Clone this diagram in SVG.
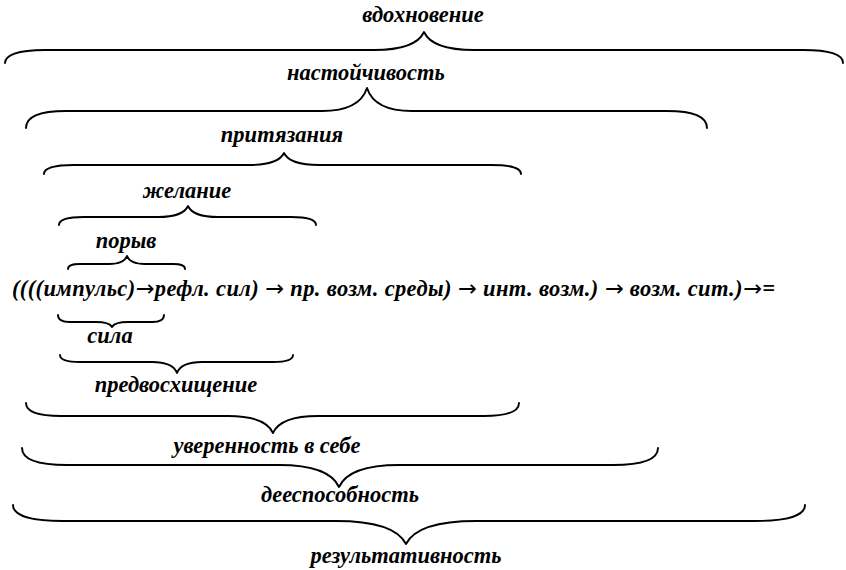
<svg xmlns="http://www.w3.org/2000/svg" width="846" height="570" viewBox="0 0 846 570">
<style>
text{font-family:'Liberation Serif','Times New Roman',serif;font-weight:bold;font-style:italic;font-size:22.5px;fill:#000}
.lbl{text-anchor:middle}
.ar{font-family:'DejaVu Sans',sans-serif;font-weight:normal;font-style:normal}
.br{fill:none;stroke:#000;stroke-width:1.9;stroke-linecap:round;stroke-linejoin:round}
</style>
<rect width="846" height="570" fill="#fff"/>
<g id="labels">
<g id="n1"><text class="lbl" x="423" y="22">вдохновение</text></g>
<g id="n2"><text class="lbl" x="366" y="80">настойчивость</text></g>
<g id="n3"><text class="lbl" x="282" y="142">притязания</text></g>
<g id="n4"><text class="lbl" x="187" y="198">желание</text></g>
<g id="n5"><text class="lbl" x="126" y="248">порыв</text></g>
<g id="n6"><text x="12" y="296" textLength="763" lengthAdjust="spacing">((((импульс)<tspan class="ar">→</tspan>рефл. сил) <tspan class="ar">→</tspan> пр. возм. среды) <tspan class="ar">→</tspan> инт. возм.) <tspan class="ar">→</tspan> возм. сит.)<tspan class="ar">→</tspan>=</text></g>
<g id="n7"><text class="lbl" x="110" y="343">сила</text></g>
<g id="n8"><text class="lbl" x="176" y="392">предвосхищение</text></g>
<g id="n9"><text class="lbl" x="267" y="453">уверенность в себе</text></g>
<g id="n10"><text class="lbl" x="340" y="502">дееспособность</text></g>
<g id="n11"><text class="lbl" x="406" y="563">результативность</text></g>
</g>
<g id="connectors">
<path id="b1" class="br" d="M5,63 C5,55.2 17,50 45,50 L374,50 C404,50 419,42.8 424,32 C429,42.8 444,50 474,50 L803,50 C831,50 843,55.2 843,63"/>
<path id="b2" class="br" d="M26,128 C26,117.8 38,111 66,111 L322,111 C349,111 362.5,101.8 367,88 C371.5,101.8 385,111 412,111 L667,111 C695,111 707,117.8 707,128"/>
<path id="b3" class="br" d="M44,174 C44,168.6 53,165 74,165 L249,165 C270,165 280.5,160.2 284,153 C287.5,160.2 298,165 319,165 L491,165 C512,165 521,168.6 521,174"/>
<path id="b4" class="br" d="M59,225 C59,220.2 66.5,217 84,217 L158,217 C176,217 185,212.6 188,206 C191,212.6 200,217 218,217 L291,217 C308.5,217 316,220.2 316,225"/>
<path id="b5" class="br" d="M68,269 C68,266 71.6,264 80,264 L109,264 C119.8,264 125.2,260.8 127,256 C128.8,260.8 134.2,264 145,264 L173,264 C181.4,264 185,266 185,269"/>
<path id="b6" class="br" d="M58,315 C58,319.2 61.6,322 70,322 L96,322 C105.6,322 110.4,324 112,327 C113.6,324 118.4,322 128,322 L152,322 C160.4,322 164,319.2 164,315"/>
<path id="b7" class="br" d="M60,355 C60,359.2 66,362 80,362 L152,362 C167,362 174.5,366.4 177,373 C179.5,366.4 187,362 202,362 L273,362 C287,362 293,359.2 293,355"/>
<path id="b8" class="br" d="M26,403 C26,410.8 36.5,416 61,416 L228,416 C255,416 268.5,422.8 273,433 C277.5,422.8 291,416 318,416 L484,416 C508.5,416 519,410.8 519,403"/>
<path id="b9" class="br" d="M22,448 C22,458.2 35.5,465 67,465 L279,465 C315,465 333,473.8 339,487 C345,473.8 363,465 399,465 L613,465 C644.5,465 658,458.2 658,448"/>
<path id="b10" class="br" d="M13,505 C13,514.6 28,521 63,521 L336,521 C378,521 399,530.2 406,544 C413,530.2 434,521 476,521 L755,521 C790,521 805,514.6 805,505"/>
</g>
</svg>
